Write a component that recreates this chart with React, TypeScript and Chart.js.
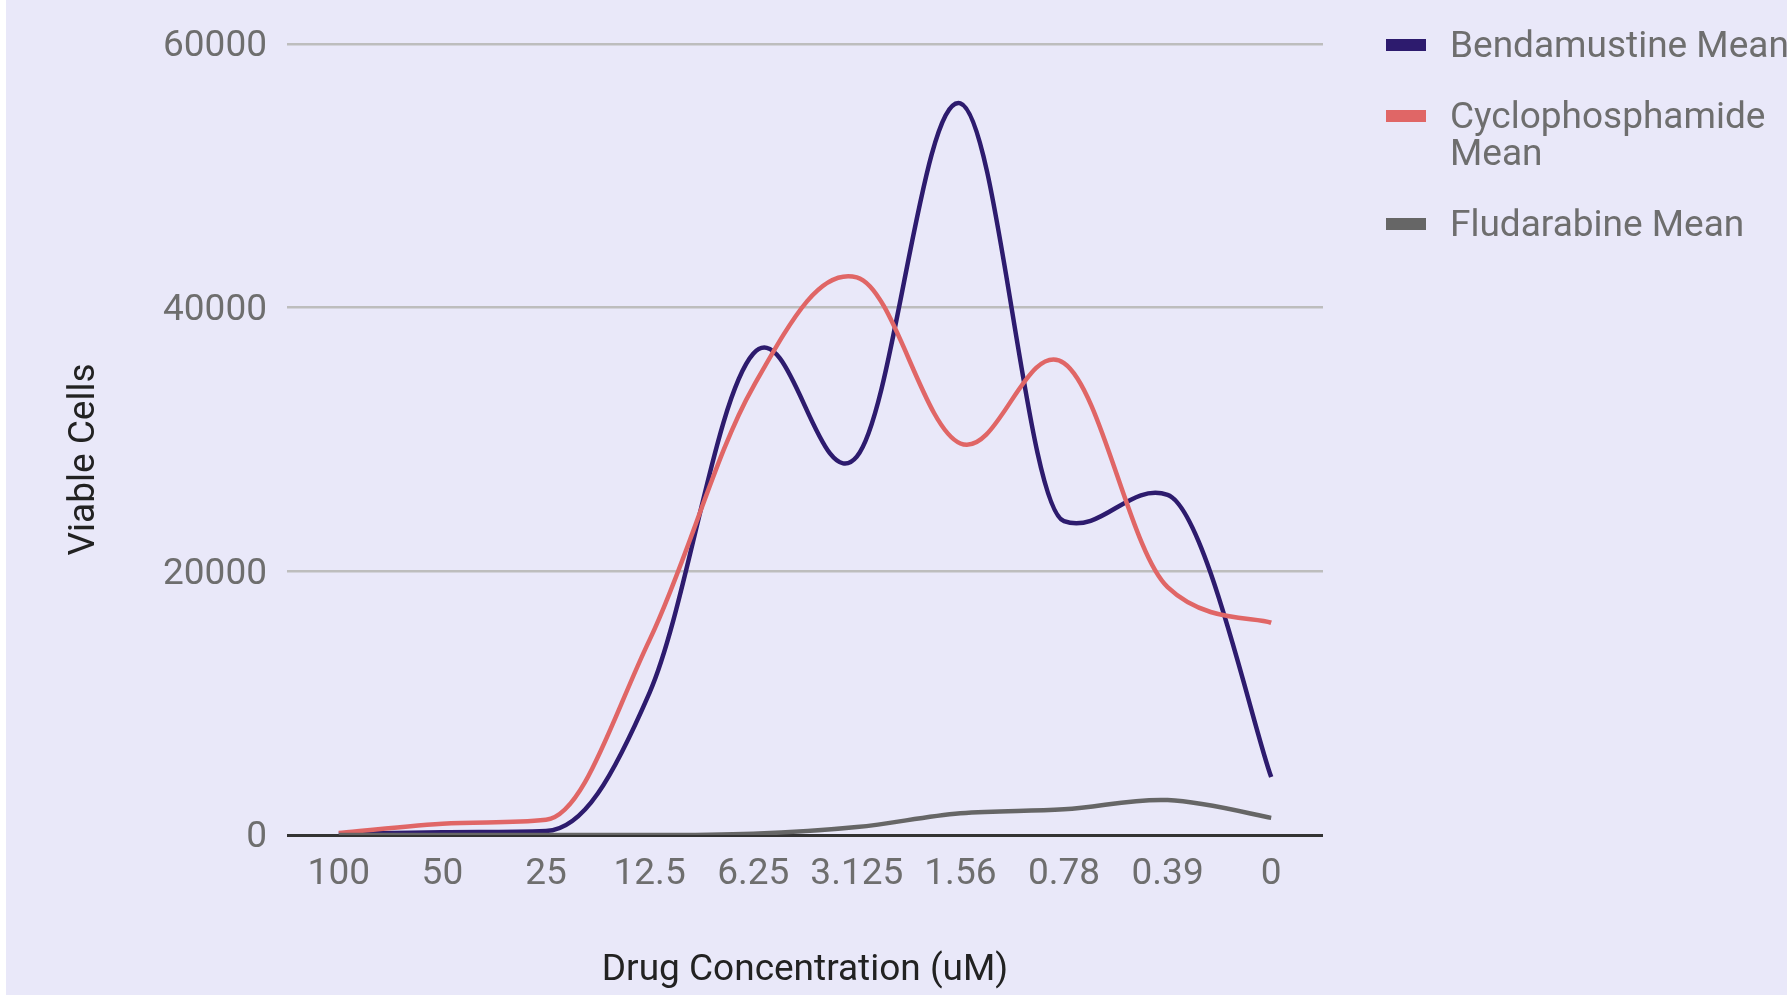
import React, { useEffect, useRef } from "react";
import { Chart, registerables } from "chart.js";

Chart.register(...registerables);

const categories = ["100", "50", "25", "12.5", "6.25", "3.125", "1.56", "0.78", "0.39", "0"];
const bendamustine = [100, 200, 300, 10800, 36500, 28700, 55500, 23800, 25800, 4400];
const cyclophosphamide = [150, 850, 1150, 14800, 34000, 42300, 29700, 35800, 18800, 16100];
const fludarabine = [0, 0, 0, 0, 100, 600, 1650, 1950, 2650, 1300];
const seriesNames = ["Bendamustine Mean", "Cyclophosphamide Mean", "Fludarabine Mean"];
const legendLines = [["Bendamustine Mean"], ["Cyclophosphamide", "Mean"], ["Fludarabine Mean"]];
const seriesColors = ["#2d1b6e", "#e06666", "#666666"];
const yTicks = [0, 20000, 40000, 60000];
const xTitle = "Drug Concentration (uM)";
const yTitle = "Viable Cells";

const W = 1787;
const H = 995;
const FONT = "Roboto, 'Noto Sans', sans-serif";
const SMOOTH = 0.18;

const bgPlugin = {
  id: "bgPlugin",
  beforeDraw(chart: any) {
    const { ctx, width, height } = chart;
    ctx.save();
    ctx.fillStyle = "#ffffff";
    ctx.fillRect(0, 0, width, height);
    ctx.fillStyle = "#e9e8f9";
    ctx.fillRect(6, 0, width - 6, height);
    ctx.restore();
  },
};

// Uniform cardinal-spline control points with limited overshoot
const smoothPlugin = {
  id: "smoothPlugin",
  beforeDatasetsDraw(chart: any) {
    chart.data.datasets.forEach((_: any, di: number) => {
      const meta = chart.getDatasetMeta(di);
      const pts = meta.data;
      const n = pts.length;
      for (let i = 0; i < n; i++) {
        const p = pts[i];
        const prev = pts[Math.max(0, i - 1)];
        const next = pts[Math.min(n - 1, i + 1)];
        const dx = (next.x - prev.x) * SMOOTH;
        let dy = (next.y - prev.y) * SMOOTH;
        if (i > 0 && i < n - 1) {
          const a = p.y - prev.y;
          const b = next.y - p.y;
          const m = Math.min(Math.abs(a), Math.abs(b));
          const lim = a * b <= 0 ? 0.5 * m : m;
          if (Math.abs(dy) > lim) dy = Math.sign(dy) * lim;
        }
        p.cp1x = p.x - dx;
        p.cp1y = p.y - dy;
        p.cp2x = p.x + dx;
        p.cp2y = p.y + dy;
      }
      if (meta.dataset) {
        meta.dataset._pointsUpdated = true;
        meta.dataset._path = undefined;
      }
    });
  },
};

const decorPlugin = {
  id: "decorPlugin",
  afterDraw(chart: any) {
    const { ctx, chartArea } = chart;
    ctx.save();
    ctx.fillStyle = "#222222";
    ctx.font = `37px ${FONT}`;
    ctx.textAlign = "center";
    ctx.textBaseline = "middle";
    ctx.fillText(xTitle, (chartArea.left + chartArea.right) / 2, chartArea.bottom + 136);
    ctx.save();
    ctx.translate(85, (chartArea.top + chartArea.bottom) / 2 + 20);
    ctx.rotate(-Math.PI / 2);
    ctx.fillText(yTitle, 0, 0);
    ctx.restore();

    const swX = chartArea.right + 63;
    const txX = chartArea.right + 127;
    let y = chartArea.top + 1;
    ctx.textAlign = "left";
    legendLines.forEach((lines, i) => {
      ctx.fillStyle = seriesColors[i];
      ctx.fillRect(swX, y - 6, 40, 12);
      ctx.fillStyle = "#6e6e6e";
      lines.forEach((ln, j) => {
        ctx.fillText(ln, txX, y + 3 + j * 37);
      });
      y += (lines.length - 1) * 37 + 71;
    });
    ctx.restore();
  },
};

export default function App() {
  const ref = useRef<HTMLCanvasElement | null>(null);

  useEffect(() => {
    document.body.style.margin = "0";
    const canvas = ref.current;
    if (!canvas) return;
    const data = [bendamustine, cyclophosphamide, fludarabine];
    const chart = new Chart(canvas, {
      type: "line",
      data: {
        labels: categories,
        datasets: data.map((d, i) => ({
          label: seriesNames[i],
          data: d,
          borderColor: seriesColors[i],
          backgroundColor: seriesColors[i],
          borderWidth: 4.5,
          pointRadius: 0,
          tension: 0.4,
          fill: false,
          order: 3 - i,
        })),
      },
      options: {
        animation: false,
        responsive: false,
        devicePixelRatio: 1,
        layout: { padding: { top: 44, right: W - 1323, bottom: 0, left: 0 } },
        plugins: {
          legend: { display: false },
          tooltip: { enabled: false },
          title: { display: false },
        },
        scales: {
          x: {
            type: "category",
            offset: true,
            grid: { display: false, drawTicks: false },
            border: { display: false },
            ticks: {
              color: "#6e6e6e",
              font: { family: FONT, size: 37 },
              padding: 18,
              maxRotation: 0,
              autoSkip: false,
            },
            afterFit(scale: any) {
              scale.height = H - 835;
            },
          },
          y: {
            min: yTicks[0],
            max: yTicks[yTicks.length - 1],
            afterBuildTicks(scale: any) {
              scale.ticks = yTicks.map((v) => ({ value: v }));
            },
            ticks: {
              color: "#6e6e6e",
              font: { family: FONT, size: 37 },
              padding: 20,
              labelOffset: 3,
              callback: (v: any) => String(v),
            },
            grid: {
              drawTicks: false,
              color: (c: any) => (c.tick && c.tick.value === 0 ? "#333333" : "#bdbdbd"),
              lineWidth: (c: any) => (c.tick && c.tick.value === 0 ? 3 : 2.5),
            },
            border: { display: false },
            afterFit(scale: any) {
              scale.width = 287;
            },
          },
        },
      },
      plugins: [bgPlugin, smoothPlugin, decorPlugin],
    });
    return () => chart.destroy();
  }, []);

  return (
    <div style={{ width: W, height: H, position: "relative" }}>
      <canvas ref={ref} width={W} height={H} style={{ display: "block", width: W, height: H }} />
    </div>
  );
}
